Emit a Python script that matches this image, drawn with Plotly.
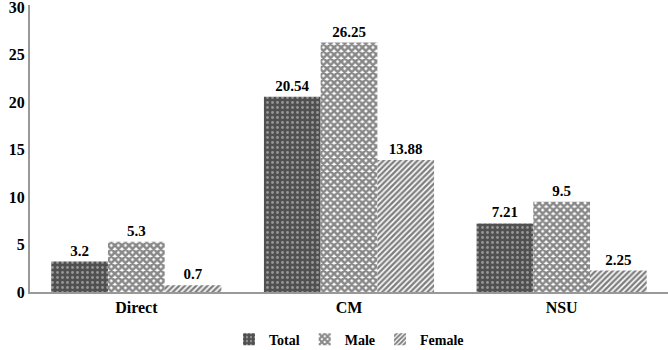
import plotly.graph_objects as go

categories = ["Direct", "CM", "NSU"]
total = [3.2, 20.54, 7.21]
male = [5.3, 26.25, 9.5]
female = [0.7, 13.88, 2.25]
y_ticks = [0, 5, 10, 15, 20, 25, 30]

font_family = "'Liberation Serif', 'Times New Roman', serif"
lab_font = dict(family=font_family, size=15, color="black")

fig = go.Figure()
fig.add_trace(go.Bar(
    name="<b>Total</b>", x=categories, y=total,
    text=[f"<b>{v}</b>" for v in total], textposition="outside",
    textfont=lab_font, cliponaxis=False,
    marker=dict(color="#5a5a5a", line=dict(width=0),
                pattern=dict(shape=".", fgcolor="#dddddd", bgcolor="#505050", size=5, solidity=0.25)),
))
fig.add_trace(go.Bar(
    name="<b>Male</b>", x=categories, y=male,
    text=[f"<b>{v}</b>" for v in male], textposition="outside",
    textfont=lab_font, cliponaxis=False,
    marker=dict(color="#444444", line=dict(width=0),
                pattern=dict(shape="x", fgcolor="#111111", bgcolor="white", size=5, solidity=0.75)),
))
fig.add_trace(go.Bar(
    name="<b>Female</b>", x=categories, y=female,
    text=[f"<b>{v}</b>" for v in female], textposition="outside",
    textfont=lab_font, cliponaxis=False,
    marker=dict(color="#222222", line=dict(width=0),
                pattern=dict(shape="/", fgcolor="#000000", bgcolor="white", size=4, solidity=0.6)),
))

fig.update_layout(
    width=668, height=350,
    margin=dict(l=30, r=0, t=5, b=58, autoexpand=False),
    paper_bgcolor="white", plot_bgcolor="white",
    barmode="group", bargap=0.2, bargroupgap=0,
    font=dict(family=font_family, size=14, color="black"),
    showlegend=True,
    legend=dict(orientation="h", x=0.5, xanchor="center", y=-0.11, yanchor="top",
                font=dict(family=font_family, size=14, color="black"),
                itemwidth=30, traceorder="normal", tracegroupgap=0,
                itemclick=False),
    xaxis=dict(showline=True, linecolor="#999999", linewidth=2, ticks="",
               automargin=False,
               tickfont=dict(family=font_family, size=16, color="black"),
               tickvals=categories, ticktext=[f"<b>{c}</b>" for c in categories]),
    yaxis=dict(range=[0, 30.2], tickvals=y_ticks, ticktext=[f"<b>{t}</b>" for t in y_ticks],
               showline=True, linecolor="#999999", linewidth=2, showgrid=False,
               zeroline=False, ticks="", ticklen=0, automargin=False,
               ticklabeloverflow="allow",
               tickfont=dict(family=font_family, size=16, color="black")),
)

fig.write_html("out.html", config={"displayModeBar": False},
               post_script="document.body.style.margin='0';document.body.style.overflow='hidden';")
